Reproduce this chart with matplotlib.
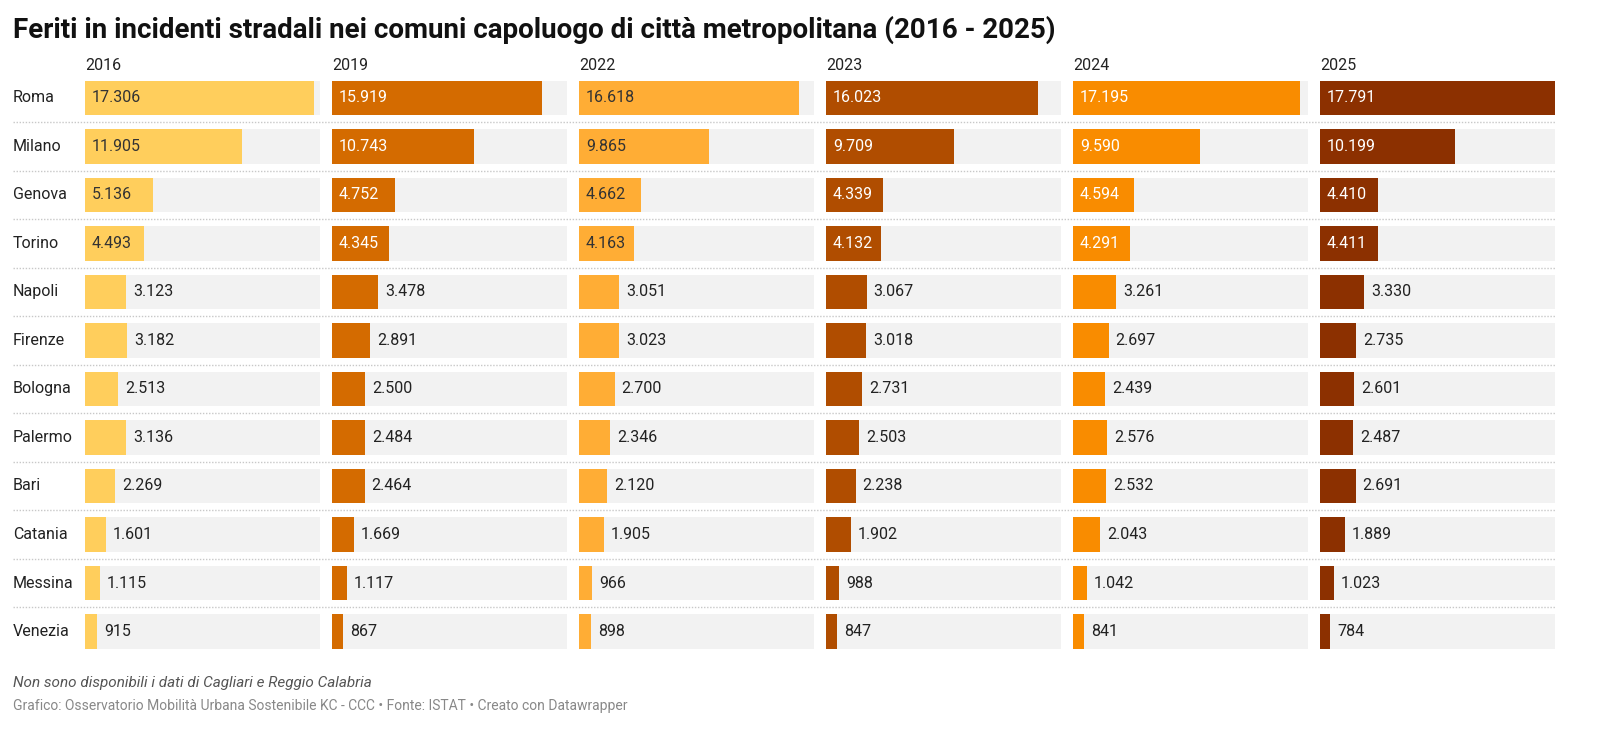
import matplotlib
matplotlib.use("Agg")
import matplotlib.pyplot as plt

plt.rcParams['font.family'] = ['Roboto', 'DejaVu Sans']

cities = ["Roma", "Milano", "Genova", "Torino", "Napoli", "Firenze", "Bologna",
          "Palermo", "Bari", "Catania", "Messina", "Venezia"]
years = ["2016", "2019", "2022", "2023", "2024", "2025"]
v2016 = [17306, 11905, 5136, 4493, 3123, 3182, 2513, 3136, 2269, 1601, 1115, 915]
v2019 = [15919, 10743, 4752, 4345, 3478, 2891, 2500, 2484, 2464, 1669, 1117, 867]
v2022 = [16618, 9865, 4662, 4163, 3051, 3023, 2700, 2346, 2120, 1905, 966, 898]
v2023 = [16023, 9709, 4339, 4132, 3067, 3018, 2731, 2503, 2238, 1902, 988, 847]
v2024 = [17195, 9590, 4594, 4291, 3261, 2697, 2439, 2576, 2532, 2043, 1042, 841]
v2025 = [17791, 10199, 4410, 4411, 3330, 2735, 2601, 2487, 2691, 1889, 1023, 784]
series = [v2016, v2019, v2022, v2023, v2024, v2025]
colors = ["#FFCE5C", "#D46B00", "#FFAD35", "#B04D00", "#F98C00", "#8C3000"]
inside_text = ["#333333", "#FFFFFF", "#333333", "#FFFFFF", "#FFFFFF", "#FFFFFF"]

title = "Feriti in incidenti stradali nei comuni capoluogo di città metropolitana (2016 - 2025)"
note = "Non sono disponibili i dati di Cagliari e Reggio Calabria"
credits = "Grafico: Osservatorio Mobilità Urbana Sostenibile KC - CCC • Fonte: ISTAT • Creato con Datawrapper"

W, H = 1600, 743
fig = plt.figure(figsize=(W / 100, H / 100), dpi=100)
fig.patch.set_facecolor("white")

def fx(px):
    return px / W

def fy(py):
    return 1 - py / H

n = len(cities)
row_top_px = 73.75
row_bot_px = 655.75
ax_bottom = fy(row_bot_px)
ax_height = (row_bot_px - row_top_px) / H
vmax = max(max(s) for s in series)
ypos = list(range(n))

# background axes for separators
bg = fig.add_axes([fx(13), ax_bottom, fx(1555 - 13), ax_height])
bg.set_xlim(0, 1)
bg.set_ylim(n - 0.5, -0.5)
bg.axis("off")
for k in range(n - 1):
    bg.axhline(k + 0.5, color="#C8C8C8", lw=1.0, ls=(0, (1, 1.2)))

# city labels
for i, c in enumerate(cities):
    bg.text(0, i, c, ha="left", va="center", fontsize=11.5, color="#222222")

panel_left0 = 85
panel_step = 247
panel_w = 235
px_per_val = panel_w / vmax

for p, (yr, vals, col, itc) in enumerate(zip(years, series, colors, inside_text)):
    left = panel_left0 + p * panel_step
    ax = fig.add_axes([fx(left), ax_bottom, fx(panel_w), ax_height])
    ax.set_xlim(0, vmax)
    ax.set_ylim(n - 0.5, -0.5)
    ax.axis("off")
    ax.barh(ypos, [vmax] * n, height=0.72, color="#F2F2F2", zorder=1)
    ax.barh(ypos, vals, height=0.72, color=col, zorder=2)
    for i, v in enumerate(vals):
        lab = f"{v:,}".replace(",", ".")
        if v >= 4000:
            ax.text(7 / px_per_val, i, lab, ha="left", va="center", fontsize=11.5,
                    color=itc, zorder=3)
        else:
            ax.text(v + 7 / px_per_val, i, lab, ha="left", va="center",
                    fontsize=11.5, color="#222222", zorder=3)
    fig.text(fx(left), fy(66), yr, ha="left", va="center", fontsize=11.5, color="#222222")

fig.text(fx(13), fy(30), title, ha="left", va="center", fontsize=20,
         fontweight="bold", color="#111111")
fig.text(fx(13), fy(683), note, ha="left", va="center", fontsize=11,
         style="italic", color="#555555")
fig.text(fx(13), fy(706), credits, ha="left", va="center", fontsize=10,
         color="#888888")

fig.savefig("out.png", dpi=100, facecolor="white")
